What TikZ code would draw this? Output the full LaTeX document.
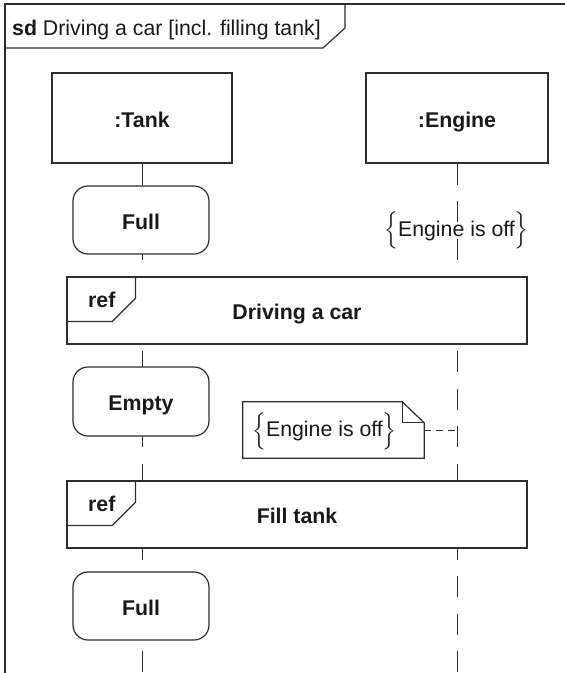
\documentclass[tikz,border=0pt]{standalone}
\usepackage{amsmath}
\usepackage{fontspec}
\setmainfont{Liberation Sans}
\usetikzlibrary{calc,backgrounds}
\definecolor{inkline}{gray}{0.18}
\definecolor{inktext}{gray}{0.1}
\newcommand{\dfont}{\fontsize{21.3pt}{25pt}\selectfont}
\newcommand{\brl}{\mathopen{\Big\{}}
\newcommand{\brr}{\mathclose{\Big\}}}
\begin{document}
\begin{tikzpicture}[x=1pt,y=-1pt,
  ln/.style={draw=inkline, line width=1.2pt},
  txt/.style={font=\dfont, text=inktext, inner sep=0pt},
  btxt/.style={font=\dfont\bfseries, text=inktext, inner sep=0pt},
  boxbase/.style={ln, fill=white, btxt, text height=18pt, text depth=0pt},
  headbox/.style={boxbase, minimum height=90pt},
  statebox/.style={boxbase, rounded corners=15pt, minimum width=136pt, minimum height=68pt},
  refbox/.style={boxbase, minimum width=460pt, minimum height=67pt},
  lifeline/.style={draw=inkline, line width=1pt, dash pattern=on 21pt off 16.5pt},
  conn/.style={draw=inkline, line width=1pt, dash pattern=on 7pt off 5pt},
  notebox/.style={inner sep=0pt, minimum width=181pt, minimum height=56pt}
]
\useasboundingbox (0,0) rectangle (565,673);

% frame and title
\draw[ln, line width=1.4pt] (565,4) -- (5,4) -- (5,673);
\draw[ln] (5,48) -- (323,48) -- (345,28) -- (345,4);
\node[txt, anchor=base west] (title) at (12,35) {\textbf{sd} Driving a car [incl. filling tank]};

% lifeline heads
\node[headbox, minimum width=180pt] (tank) at (142,118) {:Tank};
\node[headbox, minimum width=182pt] (engine) at (457,118) {:Engine};

% states
\node[statebox] (full1) at (141,220) {Full};
\node[statebox, minimum height=69pt] (empty) at (141,401.5) {Empty};
\node[statebox] (full2) at (141,606) {Full};

% interaction uses
\node[refbox] (ref1) at (297,310.5) {Driving a car};
\draw[ln] (ref1.north west) ++(69,0) -- ++(0,22) -- ++(-23,23) -- ++(-46,0);
\node[btxt, anchor=base west] (reflab1) at (88,307) {ref};

\node[refbox] (ref2) at (297,514.5) {Fill tank};
\draw[ln] (ref2.north west) ++(69,0) -- ++(0,22) -- ++(-23,23) -- ++(-46,0);
\node[btxt, anchor=base west] (reflab2) at (88,511) {ref};

% state invariant on engine
\node[txt, anchor=base] (eoff) at (456.5,236) {$\brl$Engine is off$\brr$};

% note
\node[notebox] (note) at (333.5,430) {};
\draw[ln] (note.south west) -- (note.north west) -- ($(note.north east)+(-22,0)$)
  -- ($(note.north east)+(0,21)$) -- (note.south east) -- cycle;
\draw[ln] ($(note.north east)+(-22,0)$) -- ($(note.north east)+(-22,21)$) -- ($(note.north east)+(0,21)$);
\node[txt, anchor=base] (notetext) at (324.5,436.5) {$\brl$Engine is off$\brr$};
\coordinate (nconn) at (457,430);
\draw[conn] (note.east) -- (nconn);

% lifelines behind everything
\begin{scope}[on background layer]
  \fill[white] (0,0) rectangle (565,673);
  \coordinate (tankend) at (142,673);
  \coordinate (engend) at (457,673);
  \draw[lifeline] (tank.south) -- (tankend);
  \draw[lifeline] (engine.south) -- (engend);
\end{scope}
\end{tikzpicture}
\end{document}
